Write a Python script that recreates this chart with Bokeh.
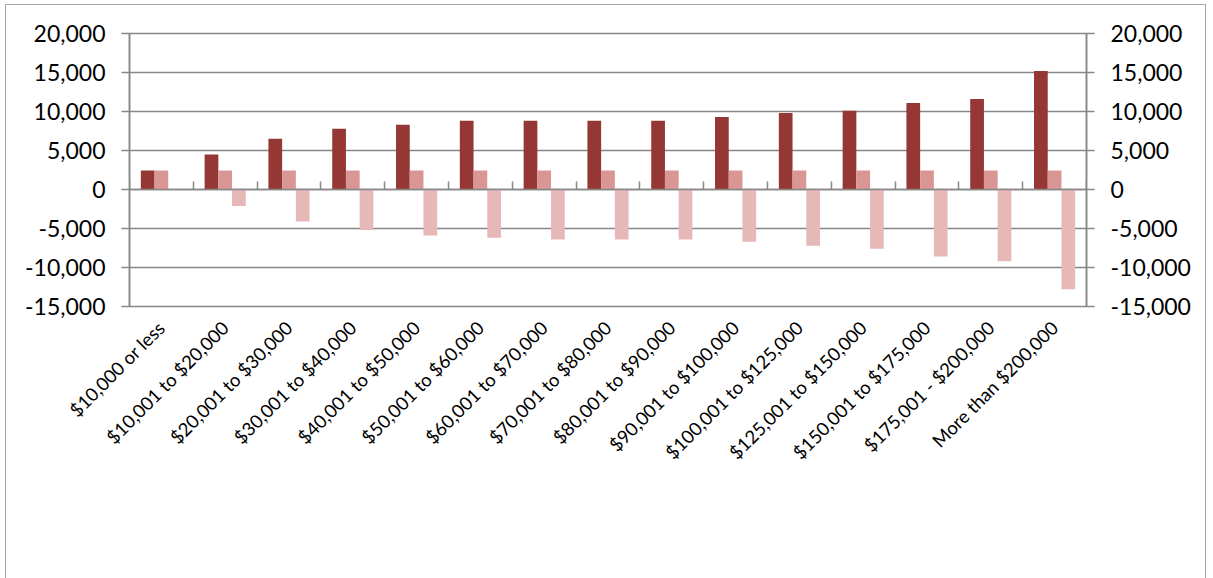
import math
from bokeh.plotting import figure
from bokeh.models import (Range1d, LinearAxis, FixedTicker,
                          NumeralTickFormatter, Legend, LegendItem, ColumnDataSource)
from bokeh.transform import dodge
from bokeh.embed import file_html
from bokeh.resources import INLINE

categories = ["$10,000 or less", "$10,001 to $20,000", "$20,001 to $30,000",
              "$30,001 to $40,000", "$40,001 to $50,000", "$50,001 to $60,000",
              "$60,001 to $70,000", "$70,001 to $80,000", "$80,001 to $90,000",
              "$90,001 to $100,000", "$100,001 to $125,000", "$125,001 to $150,000",
              "$150,001 to $175,000", "$175,001 - $200,000", "More than $200,000"]
before = [2450, 4500, 6500, 7800, 8300, 8800, 8800, 8800, 8800, 9300, 9800, 10100, 11100, 11600, 15200]
after = [2450, 2450, 2450, 2450, 2450, 2450, 2450, 2450, 2450, 2450, 2450, 2450, 2450, 2450, 2450]
impact = [-30, -2100, -4100, -5200, -5900, -6200, -6400, -6400, -6400, -6700, -7200, -7600, -8600, -9200, -12800]
y_ticks = [-15000, -10000, -5000, 0, 5000, 10000, 15000, 20000]
series_names = ["Ave Concession Before Change", "Ave Concession After Change", "Impact of Change"]
colors = ["#953735", "#D99694", "#E6B9B8"]

FONT = "Lato"
GRID = "#868686"

n = len(categories)
centers = [i + 0.5 for i in range(n)]
src = ColumnDataSource(dict(x=centers, cat=categories, before=before, after=after, impact=impact))

p = figure(x_range=Range1d(0, n), y_range=Range1d(-15000, 20000),
           frame_width=957, frame_height=273, output_backend="svg", toolbar_location=None,
           min_border_left=123, min_border_right=119, min_border_top=28,
           min_border_bottom=272, x_axis_location="below", y_axis_location="left")
p.styles = {"margin": "4px 0px 0px 5px", "border": "1px solid #A6A6A6"}
p.outline_line_color = GRID
p.outline_line_width = 1.5
p.background_fill_color = "white"
p.border_fill_color = "white"

w = 0.215
r1 = p.vbar(x=dodge("x", -w), top="before", bottom=0, width=w, source=src,
            fill_color=colors[0], line_color=None)
r2 = p.vbar(x=dodge("x", 0), top="after", bottom=0, width=w, source=src,
            fill_color=colors[1], line_color=None)
r3 = p.vbar(x=dodge("x", w), top="impact", bottom=0, width=w, source=src,
            fill_color=colors[2], line_color=None)

# grid
p.xgrid.visible = False
p.ygrid.ticker = FixedTicker(ticks=y_ticks)
p.ygrid.grid_line_color = GRID
p.ygrid.grid_line_width = 1.5

def style_y(ax, standoff):
    ax.axis_line_color = GRID
    ax.axis_line_width = 1.5
    ax.major_tick_line_color = GRID
    ax.major_tick_line_width = 1.5
    ax.major_tick_out = 8
    ax.major_tick_in = 0
    ax.minor_tick_line_color = None
    ax.major_label_standoff = standoff
    ax.major_label_text_font = FONT
    ax.major_label_text_font_size = "23px"
    ax.major_label_text_color = "black"

ya = p.yaxis[0]
ya.ticker = FixedTicker(ticks=y_ticks)
ya.formatter = NumeralTickFormatter(format="0,0")
style_y(ya, 16)

ra = LinearAxis(ticker=FixedTicker(ticks=y_ticks), formatter=NumeralTickFormatter(format="0,0"))
style_y(ra, 16)
p.add_layout(ra, "right")

# category label axis (below frame)
xa = p.xaxis[0]
xa.ticker = FixedTicker(ticks=centers)
xa.major_label_overrides = {c: lab for c, lab in zip(centers, categories)}
xa.axis_line_color = None
xa.major_tick_line_color = None
xa.minor_tick_line_color = None
xa.major_label_orientation = math.pi / 4
xa.major_label_standoff = 12
xa.major_label_text_font = FONT
xa.major_label_text_font_size = "18.5px"
xa.major_label_text_color = "black"

# zero-line axis with tick marks between categories
za = LinearAxis(fixed_location=0, ticker=FixedTicker(ticks=list(range(n + 1))))
za.axis_line_color = GRID
za.axis_line_width = 1.5
za.major_tick_line_color = GRID
za.major_tick_line_width = 1.5
za.major_tick_out = 8
za.major_tick_in = 0
za.minor_tick_line_color = None
za.major_label_text_font_size = "0px"
za.major_label_standoff = 0
p.add_layout(za, "above")

legend = Legend(items=[LegendItem(label=series_names[0], renderers=[r1]),
                       LegendItem(label=series_names[1], renderers=[r2]),
                       LegendItem(label=series_names[2], renderers=[r3])],
                orientation="horizontal", location="center")
legend.label_text_font = FONT
legend.label_text_font_size = "24px"
legend.label_text_color = "black"
legend.glyph_width = 18
legend.glyph_height = 18
legend.spacing = 58
legend.label_standoff = 5
legend.padding = 0
try:
    legend.margin = -55
except Exception:
    legend.margin = 0
legend.border_line_color = None
legend.background_fill_alpha = 0
p.add_layout(legend, "below")

open("out.html", "w").write(file_html(p, INLINE))
